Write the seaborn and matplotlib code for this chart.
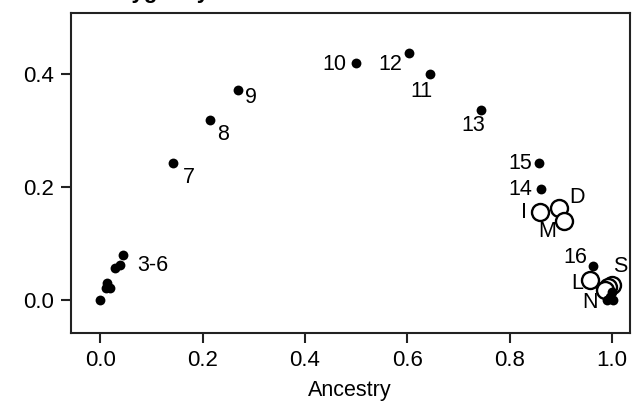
import matplotlib
matplotlib.use("Agg")
import matplotlib.pyplot as plt
import seaborn as sns
import pandas as pd

# Filled points (numbered samples)
filled_x = [0.000, 0.014, 0.012, 0.020, 0.029, 0.039, 0.045,
            0.143, 0.215, 0.270, 0.500, 0.604, 0.645, 0.744,
            0.857, 0.861, 0.963, 1.000, 0.990, 1.002, 0.996]
filled_y = [0.000, 0.030, 0.021, 0.021, 0.057, 0.062, 0.080,
            0.242, 0.319, 0.372, 0.420, 0.437, 0.400, 0.336,
            0.242, 0.196, 0.060, 0.014, 0.000, 0.000, 0.005]
filled_lab = ["", "", "", "", "", "3-6", "",
              "7", "8", "9", "10", "12", "11", "13",
              "15", "14", "16", "", "N", "", ""]

# Open points (lettered samples)
open_x = [0.859, 0.896, 0.906, 0.957, 1.000, 0.992, 0.986]
open_y = [0.156, 0.163, 0.140, 0.035, 0.027, 0.023, 0.018]
open_lab = ["I", "D", "M", "L", "S", "", ""]

# label offsets in pixels (right, down)
offsets = {"3-6": (33, 0), "7": (15, 14), "8": (13, 15), "9": (13, 8),
           "10": (-22, 2), "12": (-19, 11), "11": (-9, 17), "13": (-8, 15),
           "15": (-19, 0), "14": (-21, 0), "16": (-18, -9), "N": (-17, 2),
           "I": (-16, 0), "D": (18, -11), "M": (-17, 10), "L": (-13, 3),
           "S": (8, -18)}

sns.set_theme(style="ticks")
plt.rcParams["font.family"] = ["Liberation Sans", "DejaVu Sans"]
plt.rcParams["text.color"] = "black"
plt.rcParams["xtick.color"] = "black"
plt.rcParams["ytick.color"] = "black"
plt.rcParams["axes.labelcolor"] = "black"

fig = plt.figure(figsize=(6.43, 4.01), dpi=100)
ax = fig.add_axes([70.5/643, 1-333/401, (630-70.5)/643, (333-13)/401])

df_f = pd.DataFrame({"x": filled_x, "y": filled_y, "lab": filled_lab})
df_o = pd.DataFrame({"x": open_x, "y": open_y, "lab": open_lab})

sns.scatterplot(data=df_o, x="x", y="y", ax=ax, s=150, facecolor="white",
                edgecolor="black", linewidth=1.7, zorder=2)
sns.scatterplot(data=df_f, x="x", y="y", ax=ax, s=50, color="black",
                edgecolor="black", linewidth=0, zorder=3)

pt = 72/100
for df in (df_f, df_o):
    for _, r in df.iterrows():
        if r["lab"]:
            dx, dy = offsets[r["lab"]]
            ax.annotate(r["lab"], (r["x"], r["y"]), xytext=(dx*pt, -dy*pt),
                        textcoords="offset points", ha="center", va="center",
                        fontsize=15.5, color="black")

ax.set_xlim(-0.058, 1.035)
ax.set_ylim(-0.058, 0.508)
ax.set_xticks([0.0, 0.2, 0.4, 0.6, 0.8, 1.0])
ax.set_yticks([0.0, 0.2, 0.4])
ax.set_xticklabels(["0.0", "0.2", "0.4", "0.6", "0.8", "1.0"])
ax.set_yticklabels(["0.0", "0.2", "0.4"])
ax.tick_params(axis="both", labelsize=16, length=7, width=1.5, color="#222222",
               pad=5)
ax.set_xlabel("Ancestry", fontsize=15.5, labelpad=7)
ax.set_ylabel("")
for sp in ax.spines.values():
    sp.set_linewidth(1.5)
    sp.set_color("#222222")

fig.text(50/643, 1 + 2/401, "Heterozygosity", fontsize=16, fontweight="bold",
         ha="left", va="baseline")

fig.savefig("out.png", dpi=100)
